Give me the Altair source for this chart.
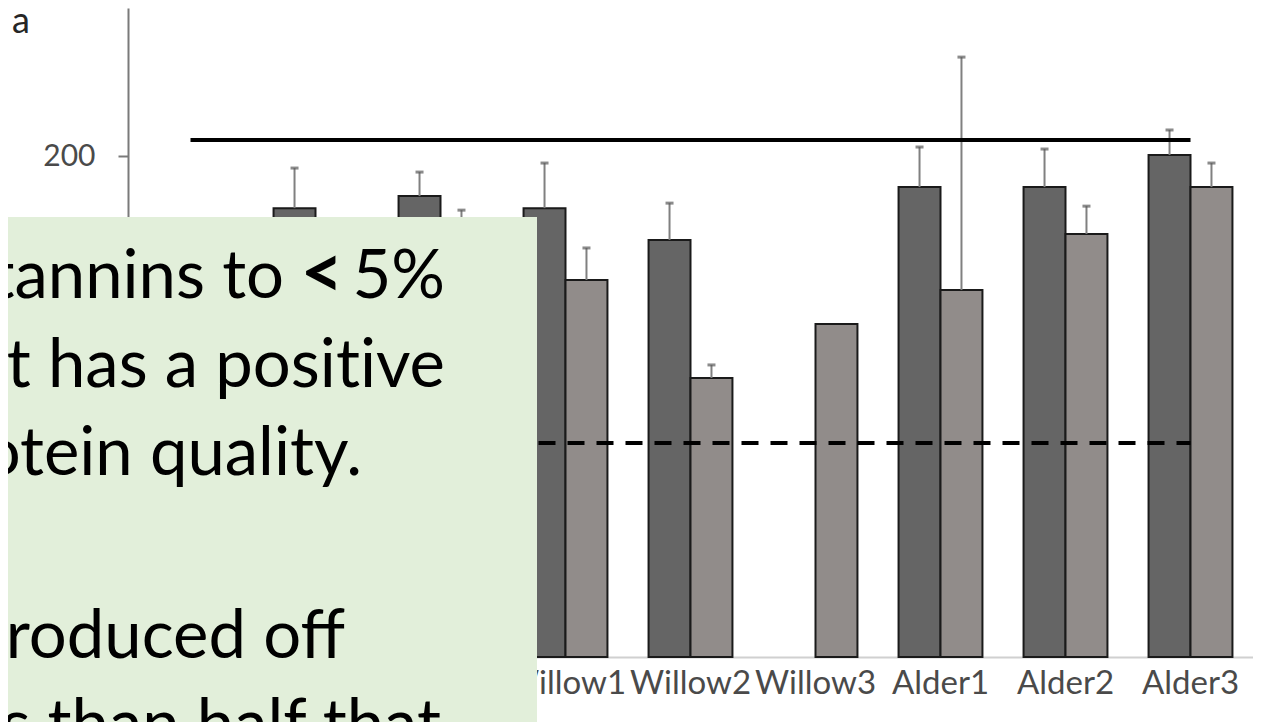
import altair as alt
import pandas as pd

# ---- data ----
groups = ["Birch1", "Birch2", "Birch3", "Willow1", "Willow2", "Willow3", "Alder1", "Alder2", "Alder3"]
hidden_labels = ["Birch1", "Birch2", "Birch3"]   # covered by the text box in the reference
dark_vals = [150.0, 179.2, 184.0, 179.2, 166.5, None, 187.6, 187.6, 200.4]
dark_errs = [12.0, 16.0, 9.6, 18.0, 14.7, None, 16.0, 15.2, 10.0]
light_vals = [118.0, 140.0, 168.0, 150.5, 111.4, 132.9, 146.5, 168.9, 187.6]
light_errs = [10.0, 12.0, 10.4, 12.8, 5.2, None, 93.0, 11.1, 9.6]
series_names = ["dark", "light"]
series_fill = ["#656565", "#918c8a"]
solid_level = 206.4
dashed_level = 85.4
y_ticks = [200]
y_max = 259.1
panel_letter = "a"

# overlay text pieces (text, page x anchor, align, weight, size, page baseline)
overlay_text = ["tannins to", "<", "5%", "t has a posit\u200cive", "otein quality.", "roduced off", "s than half that"]
overlay_x = [284, 322, 445, 445, 362, 345, 441]
overlay_align = ["right", "center", "right", "right", "right", "right", "right"]
overlay_weight = ["normal", "bold", "normal", "normal", "normal", "normal", "normal"]
overlay_size = [67, 74, 67, 67, 67, 67, 67]
overlay_base = [298, 298, 298, 387, 475, 658, 747]

rows = []
for g, dv, de, lv, le in zip(groups, dark_vals, dark_errs, light_vals, light_errs):
    if dv is not None:
        rows.append({"group": g, "series": "dark", "value": dv,
                     "top": dv + de if de is not None else None})
    if lv is not None:
        rows.append({"group": g, "series": "light", "value": lv,
                     "top": lv + le if le is not None else None})
df = pd.DataFrame(rows)
df_err = df.dropna(subset=["top"])

lines_df = pd.DataFrame({
    "group": [groups[0], groups[-1], groups[0], groups[-1]],
    "value": [solid_level, solid_level, dashed_level, dashed_level],
    "kind": ["solid", "solid", "dashed", "dashed"],
})

FONT = "Lato"
OX, OY = 128, 8  # page position of plot origin

hide_expr = " || ".join([f"datum.value == '{h}'" for h in hidden_labels])
x_enc = alt.X("group:N", sort=groups,
              scale=alt.Scale(domain=groups, paddingInner=0, paddingOuter=0),
              axis=alt.Axis(title=None, labelAngle=0, labelFont=FONT, labelFontSize=33,
                            labelColor="#4a4a4a", labelPadding=10, ticks=False,
                            labelExpr=f"({hide_expr}) ? '' : datum.label",
                            domainColor="#d0d0d0", domainWidth=2))


def y_for(field):
    return alt.Y(f"{field}:Q",
                 scale=alt.Scale(domain=[0, y_max], nice=False, zero=True),
                 axis=alt.Axis(title=None, values=y_ticks, labelFont=FONT, labelFontSize=30,
                               labelColor="#4a4a4a", labelPadding=23, tickSize=10, tickWidth=2,
                               tickColor="#7a7a7a", domainColor="#7a7a7a", domainWidth=2,
                               grid=False))


xo_enc = alt.XOffset("series:N",
                     scale=alt.Scale(domain=series_names, paddingInner=0, paddingOuter=0.49))

bars = alt.Chart(df).mark_bar(stroke="#1a1a1a", strokeWidth=2).encode(
    x=x_enc, xOffset=xo_enc, y=y_for("value"),
    color=alt.Color("series:N", scale=alt.Scale(domain=series_names, range=series_fill), legend=None),
)

err = alt.Chart(df_err).mark_rule(color="#808080", strokeWidth=2).encode(
    x=x_enc, xOffset=xo_enc, y=y_for("value"), y2="top:Q")
caps = alt.Chart(df_err).mark_tick(color="#5a5a5a", size=8, thickness=3).encode(
    x=x_enc, xOffset=xo_enc, y=y_for("top"))

solid = alt.Chart(lines_df).transform_filter(alt.datum.kind == "solid").mark_line(
    color="black", strokeWidth=4, strokeCap="butt").encode(x=x_enc, y=y_for("value"))
dashed = alt.Chart(lines_df).transform_filter(alt.datum.kind == "dashed").mark_line(
    color="black", strokeWidth=4, strokeDash=[17, 12], strokeCap="butt").encode(x=x_enc, y=y_for("value"))

one = alt.Data(values=[{}])
letter = alt.Chart(one).mark_text(text=panel_letter, font=FONT, fontSize=36, color="#262626",
                                  align="left", baseline="alphabetic").encode(
    x=alt.value(12 - OX), y=alt.value(33 - OY))

box = alt.Chart(one).mark_rect(color="#e2efda").encode(
    x=alt.value(0 - OX), x2=alt.value(537 - OX), y=alt.value(217 - OY), y2=alt.value(730 - OY))

texts = []
for t, px, al, wt, sz, by in zip(overlay_text, overlay_x, overlay_align, overlay_weight,
                                 overlay_size, overlay_base):
    texts.append(alt.Chart(one).mark_text(text=t, font=FONT, fontSize=sz, color="black",
                                          fontWeight=wt, align=al, baseline="alphabetic").encode(
        x=alt.value(px - OX), y=alt.value(by - OY)))

chart = alt.layer(bars, err, caps, solid, dashed, letter, box, *texts).properties(
    width=1125, height=649,
    autosize=alt.AutoSizeParams(type="none"),
    padding={"left": 120, "top": 0, "right": 0, "bottom": 65},
).configure_view(strokeWidth=0)

chart.save("out.html", embed_options={"renderer": "svg", "actions": False})
